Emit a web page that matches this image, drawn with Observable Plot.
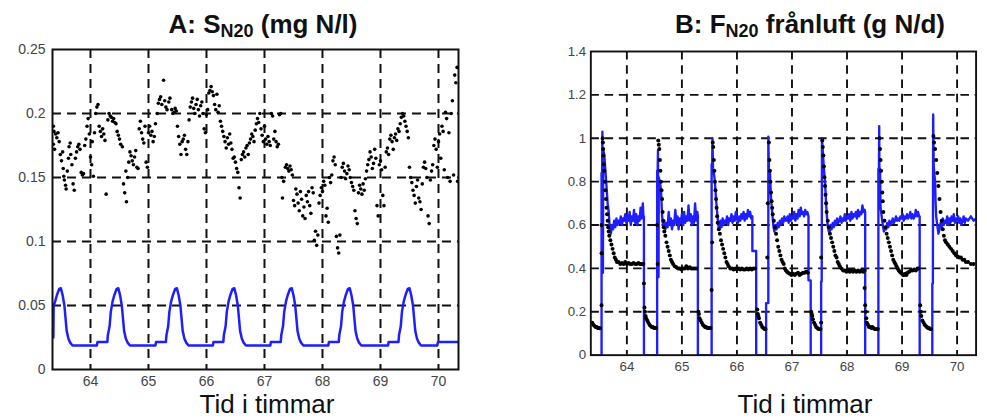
<!DOCTYPE html>
<html><head><meta charset="utf-8">
<script src="https://cdn.jsdelivr.net/npm/d3@7"></script>
<script src="https://cdn.jsdelivr.net/npm/@observablehq/plot@0.6"></script>
<style>
body{margin:0;background:#fff;}
#wrap{position:relative;width:987px;height:419px;overflow:hidden;font-family:"Liberation Sans",Arial,sans-serif;background:#fff;}
.title{position:absolute;font-weight:bold;font-size:26px;line-height:26px;white-space:nowrap;transform:translateX(-50%);color:#111;}
.title .sub{font-size:18px;position:relative;top:4px;}
.xlab{position:absolute;font-size:26px;line-height:26px;white-space:nowrap;transform:translateX(-50%);color:#111;}
.panel{position:absolute;}
</style></head>
<body><div id="wrap">
<div class="title" style="left:263px;top:11px;">A: S<span class="sub">N20</span> (mg N/l)</div>
<div class="title" style="left:810px;top:11px;">B: F<span class="sub">N20</span> frånluft (g N/d)</div>
<div class="xlab" style="left:267px;top:391px;">Tid i timmar</div>
<div class="xlab" style="left:805px;top:391px;">Tid i timmar</div>
<div id="pa" class="panel" style="left:0;top:30px;"></div>
<div id="pb" class="panel" style="left:541px;top:33px;"></div>
</div>
<script>
// ---- data ----
const xTicks = [64, 65, 66, 67, 68, 69, 70];
const yTicksA = [0, 0.05, 0.1, 0.15, 0.2, 0.25];
const yTicksB = [0, 0.2, 0.4, 0.6, 0.8, 1, 1.2, 1.4];
const gridA = [0.05, 0.1, 0.15, 0.2];
const gridB = [0.2, 0.4, 0.6, 0.8, 1, 1.2];
const xDomain = [63.345, 70.345];

// Panel A: measured S_N2O (black dots)
const dotsA = [[63.36,0.190],[63.37,0.186],[63.36,0.176],[63.38,0.172],[63.40,0.184],[63.42,0.181],[63.44,0.185],[63.46,0.178],[63.48,0.168],[63.50,0.163],[63.52,0.170],[63.53,0.157],[63.54,0.151],[63.55,0.148],[63.57,0.144],[63.58,0.141],[63.60,0.155],[63.62,0.165],[63.63,0.174],[63.65,0.177],[63.66,0.168],[63.68,0.160],[63.70,0.145],[63.72,0.140],[63.74,0.165],[63.76,0.170],[63.78,0.174],[63.80,0.176],[63.82,0.172],[63.84,0.154],[63.86,0.152],[63.88,0.153],[63.90,0.175],[63.92,0.180],[63.94,0.190],[63.96,0.196],[63.98,0.184],[64.00,0.166],[64.02,0.160],[64.03,0.178],[64.05,0.151],[64.07,0.185],[64.09,0.200],[64.11,0.205],[64.13,0.207],[64.15,0.190],[64.17,0.186],[64.19,0.182],[64.21,0.188],[64.23,0.184],[64.25,0.179],[64.27,0.137],[64.30,0.195],[64.32,0.200],[64.34,0.198],[64.36,0.197],[64.38,0.194],[64.40,0.196],[64.42,0.193],[64.44,0.192],[64.46,0.186],[64.48,0.183],[64.50,0.180],[64.52,0.176],[64.55,0.174],[64.57,0.145],[64.59,0.138],[64.61,0.155],[64.62,0.131],[64.64,0.150],[64.66,0.162],[64.68,0.170],[64.70,0.167],[64.72,0.163],[64.74,0.160],[64.76,0.166],[64.78,0.171],[64.80,0.158],[64.82,0.157],[64.84,0.188],[64.86,0.194],[64.88,0.185],[64.90,0.180],[64.92,0.177],[64.94,0.190],[64.96,0.162],[64.98,0.158],[65.00,0.185],[65.02,0.190],[65.04,0.183],[65.06,0.186],[65.08,0.178],[65.10,0.182],[65.12,0.192],[65.15,0.200],[65.17,0.208],[65.19,0.211],[65.21,0.213],[65.23,0.207],[65.26,0.226],[65.28,0.210],[65.30,0.205],[65.32,0.203],[65.35,0.209],[65.37,0.212],[65.40,0.203],[65.42,0.200],[65.44,0.201],[65.46,0.204],[65.48,0.202],[65.50,0.190],[65.52,0.182],[65.54,0.176],[65.56,0.168],[65.58,0.178],[65.60,0.180],[65.62,0.183],[65.64,0.172],[65.66,0.168],[65.68,0.178],[65.70,0.195],[65.72,0.205],[65.74,0.209],[65.76,0.212],[65.78,0.204],[65.80,0.200],[65.82,0.207],[65.84,0.211],[65.86,0.203],[65.88,0.198],[65.90,0.206],[65.92,0.209],[65.94,0.200],[65.96,0.188],[65.98,0.185],[66.00,0.199],[66.02,0.203],[66.04,0.216],[66.06,0.218],[66.08,0.221],[66.10,0.217],[66.12,0.214],[66.14,0.207],[66.16,0.203],[66.18,0.215],[66.20,0.201],[66.22,0.206],[66.24,0.194],[66.26,0.190],[66.28,0.186],[66.30,0.182],[66.32,0.178],[66.34,0.173],[66.36,0.181],[66.38,0.176],[66.40,0.184],[66.42,0.177],[66.44,0.172],[66.46,0.165],[66.48,0.166],[66.50,0.162],[66.52,0.157],[66.54,0.154],[66.56,0.142],[66.58,0.134],[66.60,0.164],[66.62,0.168],[66.64,0.170],[66.66,0.166],[66.68,0.173],[66.70,0.175],[66.72,0.168],[66.74,0.177],[66.76,0.180],[66.78,0.184],[66.80,0.182],[66.82,0.178],[66.84,0.187],[66.86,0.192],[66.88,0.196],[66.90,0.193],[66.92,0.200],[66.94,0.188],[66.96,0.183],[66.98,0.178],[67.00,0.190],[67.02,0.180],[67.04,0.176],[67.06,0.182],[67.08,0.178],[67.10,0.175],[67.12,0.200],[67.14,0.198],[67.16,0.180],[67.18,0.186],[67.20,0.178],[67.22,0.174],[67.24,0.176],[67.26,0.199],[67.28,0.200],[67.30,0.150],[67.31,0.134],[67.33,0.147],[67.36,0.158],[67.38,0.160],[67.40,0.157],[67.42,0.155],[67.44,0.159],[67.46,0.156],[67.48,0.152],[67.50,0.132],[67.52,0.128],[67.54,0.141],[67.56,0.137],[67.58,0.130],[67.60,0.124],[67.62,0.139],[67.64,0.133],[67.66,0.120],[67.68,0.127],[67.70,0.118],[67.72,0.136],[67.74,0.131],[67.76,0.139],[67.78,0.128],[67.80,0.122],[67.82,0.142],[67.84,0.138],[67.86,0.101],[67.88,0.108],[67.90,0.097],[67.92,0.105],[67.94,0.130],[67.96,0.136],[67.98,0.142],[68.00,0.139],[68.02,0.147],[68.04,0.144],[68.06,0.120],[68.08,0.126],[68.10,0.115],[68.12,0.150],[68.14,0.146],[68.16,0.152],[68.18,0.163],[68.20,0.166],[68.22,0.160],[68.24,0.104],[68.26,0.095],[68.28,0.091],[68.30,0.105],[68.32,0.150],[68.34,0.158],[68.36,0.161],[68.38,0.155],[68.40,0.149],[68.42,0.153],[68.44,0.159],[68.46,0.156],[68.48,0.150],[68.50,0.146],[68.52,0.143],[68.54,0.140],[68.56,0.124],[68.58,0.118],[68.60,0.114],[68.62,0.138],[68.64,0.144],[68.66,0.141],[68.68,0.137],[68.70,0.145],[68.72,0.140],[68.74,0.149],[68.76,0.155],[68.78,0.160],[68.80,0.164],[68.82,0.170],[68.84,0.166],[68.86,0.157],[68.88,0.161],[68.90,0.172],[68.92,0.165],[68.94,0.128],[68.96,0.120],[68.98,0.160],[69.00,0.163],[69.02,0.156],[69.04,0.136],[69.06,0.128],[69.08,0.158],[69.10,0.170],[69.12,0.173],[69.14,0.168],[69.16,0.180],[69.18,0.183],[69.20,0.178],[69.22,0.172],[69.24,0.181],[69.26,0.184],[69.28,0.179],[69.30,0.188],[69.32,0.186],[69.34,0.192],[69.36,0.197],[69.38,0.200],[69.40,0.198],[69.42,0.194],[69.44,0.190],[69.46,0.186],[69.48,0.181],[69.50,0.158],[69.52,0.150],[69.54,0.146],[69.56,0.140],[69.58,0.136],[69.60,0.130],[69.62,0.143],[69.64,0.148],[69.66,0.134],[69.68,0.131],[69.70,0.125],[69.72,0.145],[69.74,0.158],[69.76,0.162],[69.78,0.157],[69.80,0.150],[69.82,0.120],[69.84,0.114],[69.86,0.148],[69.88,0.155],[69.90,0.160],[69.92,0.175],[69.94,0.180],[69.96,0.172],[69.98,0.158],[70.00,0.178],[70.02,0.184],[70.04,0.165],[70.06,0.190],[70.08,0.186],[70.10,0.156],[70.12,0.201],[70.14,0.196],[70.16,0.150],[70.18,0.185],[70.20,0.147],[70.22,0.200],[70.24,0.210],[70.26,0.152],[70.28,0.230],[70.30,0.224],[70.32,0.236],[70.33,0.147]];

// Panel A: simulated S_N2O (blue line)
const lineA = [[63.345,0.025],[63.36,0.025],[63.365,0.050],[63.39,0.053],[63.42,0.058],[63.46,0.063],[63.49,0.0635],[63.52,0.058],[63.55,0.050],[63.57,0.040],[63.59,0.030],[63.62,0.024],[63.65,0.021],[63.69,0.0188],
[64.11,0.0188],[64.12,0.0214],[64.29,0.0214],[64.30,0.027],[64.33,0.034],[64.35,0.045],[64.38,0.053],[64.41,0.058],[64.45,0.063],[64.48,0.0635],[64.51,0.058],[64.54,0.050],[64.56,0.040],[64.58,0.030],[64.61,0.024],[64.64,0.021],[64.68,0.0188],
[65.12,0.0188],[65.13,0.0214],[65.30,0.0214],[65.31,0.027],[65.34,0.034],[65.36,0.045],[65.39,0.053],[65.42,0.058],[65.46,0.063],[65.49,0.0635],[65.52,0.058],[65.55,0.050],[65.57,0.040],[65.59,0.030],[65.62,0.024],[65.65,0.021],[65.69,0.0188],
[66.11,0.0188],[66.12,0.0214],[66.29,0.0214],[66.30,0.027],[66.33,0.034],[66.35,0.045],[66.38,0.053],[66.41,0.058],[66.45,0.063],[66.48,0.0635],[66.51,0.058],[66.54,0.050],[66.56,0.040],[66.58,0.030],[66.61,0.024],[66.64,0.021],[66.68,0.0188],
[67.10,0.0188],[67.11,0.0214],[67.28,0.0214],[67.29,0.027],[67.32,0.034],[67.34,0.045],[67.37,0.053],[67.40,0.058],[67.44,0.063],[67.47,0.0635],[67.50,0.058],[67.53,0.050],[67.55,0.040],[67.57,0.030],[67.60,0.024],[67.63,0.021],[67.67,0.0188],
[68.10,0.0188],[68.11,0.0214],[68.28,0.0214],[68.29,0.027],[68.32,0.034],[68.34,0.045],[68.37,0.053],[68.40,0.058],[68.44,0.063],[68.47,0.0635],[68.50,0.058],[68.53,0.050],[68.55,0.040],[68.57,0.030],[68.60,0.024],[68.63,0.021],[68.67,0.0188],
[69.13,0.0188],[69.14,0.0214],[69.31,0.0214],[69.32,0.027],[69.35,0.034],[69.37,0.045],[69.40,0.053],[69.43,0.058],[69.47,0.063],[69.50,0.0635],[69.53,0.058],[69.56,0.050],[69.58,0.040],[69.60,0.030],[69.63,0.024],[69.66,0.021],[69.70,0.0188],
[69.98,0.0188],[69.99,0.0214],[70.345,0.0214]];

// Panel B: simulated N2O flux in off-gas (blue line)
const lineB = [[63.345,0],[63.54,0],[63.54,0.84],[63.55,0.84],[63.555,1.03],[63.565,0.38],[63.57,0.95],[63.59,0.92],[63.61,0.85],[63.63,0.78],[63.65,0.70],[63.67,0.66],[63.69,0.58],[63.71,0.56],[63.73,0.60],[63.75,0.58],[63.77,0.62],[63.79,0.59],[63.81,0.63],[63.83,0.60],[63.85,0.62],[63.87,0.61],[63.89,0.64],[63.91,0.60],[63.93,0.63],[63.95,0.62],[63.97,0.65],[63.99,0.61],[64.01,0.64],[64.03,0.62],[64.05,0.66],[64.07,0.60],[64.09,0.64],[64.11,0.62],[64.13,0.67],[64.15,0.61],[64.17,0.65],[64.19,0.60],[64.21,0.64],[64.23,0.62],[64.25,0.68],[64.27,0.63],[64.29,0.70],[64.30,0.64],[64.31,0.64],[64.31,0],
[64.55,0],[64.55,0.85],[64.56,0.85],[64.565,0.945],[64.575,0.36],[64.58,0.82],[64.60,0.80],[64.62,0.76],[64.64,0.64],[64.66,0.60],[64.68,0.62],[64.70,0.58],[64.72,0.61],[64.74,0.59],[64.76,0.66],[64.78,0.60],[64.80,0.63],[64.82,0.58],[64.84,0.62],[64.86,0.60],[64.88,0.67],[64.90,0.61],[64.92,0.64],[64.94,0.58],[64.96,0.63],[64.98,0.61],[65.00,0.65],[65.02,0.60],[65.04,0.66],[65.06,0.61],[65.08,0.64],[65.10,0.62],[65.12,0.69],[65.14,0.62],[65.16,0.65],[65.18,0.60],[65.20,0.64],[65.22,0.61],[65.24,0.70],[65.26,0.62],[65.28,0.66],[65.29,0.64],[65.29,0],
[65.54,0],[65.54,0.88],[65.55,0.88],[65.555,1.0],[65.565,0.86],[65.58,0.84],[65.60,0.80],[65.62,0.72],[65.64,0.66],[65.66,0.60],[65.68,0.58],[65.70,0.62],[65.72,0.59],[65.74,0.63],[65.76,0.60],[65.78,0.62],[65.80,0.61],[65.82,0.64],[65.84,0.60],[65.86,0.63],[65.88,0.62],[65.90,0.65],[65.92,0.61],[65.94,0.64],[65.96,0.62],[65.98,0.66],[66.00,0.63],[66.02,0.61],[66.04,0.64],[66.06,0.62],[66.08,0.65],[66.10,0.63],[66.12,0.66],[66.14,0.62],[66.16,0.65],[66.18,0.63],[66.20,0.67],[66.22,0.64],[66.24,0.66],[66.26,0.63],[66.28,0.64],[66.28,0.48],[66.35,0.48],[66.35,0],
[66.53,0],[66.53,0.24],[66.57,0.24],[66.57,1.007],[66.58,0.86],[66.60,0.84],[66.62,0.72],[66.64,0.66],[66.66,0.60],[66.68,0.57],[66.70,0.60],[66.72,0.58],[66.74,0.61],[66.76,0.59],[66.78,0.62],[66.80,0.60],[66.82,0.63],[66.84,0.61],[66.86,0.64],[66.88,0.62],[66.90,0.62],[66.92,0.64],[66.94,0.61],[66.96,0.65],[66.98,0.62],[67.00,0.64],[67.02,0.63],[67.04,0.66],[67.06,0.62],[67.08,0.65],[67.10,0.63],[67.12,0.67],[67.14,0.64],[67.16,0.68],[67.18,0.65],[67.20,0.66],[67.22,0.64],[67.24,0.67],[67.26,0.65],[67.28,0.66],[67.30,0.64],[67.30,0.345],[67.34,0.345],[67.34,0],
[67.53,0],[67.53,0.34],[67.54,0.34],[67.545,1.0],[67.56,0.94],[67.58,0.86],[67.60,0.80],[67.62,0.70],[67.64,0.62],[67.66,0.58],[67.68,0.56],[67.70,0.60],[67.72,0.58],[67.74,0.61],[67.76,0.59],[67.78,0.62],[67.80,0.60],[67.82,0.63],[67.84,0.61],[67.86,0.62],[67.88,0.64],[67.90,0.61],[67.92,0.63],[67.94,0.62],[67.96,0.65],[67.98,0.62],[68.00,0.64],[68.02,0.63],[68.04,0.65],[68.06,0.62],[68.08,0.66],[68.10,0.63],[68.12,0.65],[68.14,0.64],[68.16,0.66],[68.18,0.63],[68.20,0.67],[68.22,0.64],[68.24,0.66],[68.26,0.65],[68.28,0.69],[68.30,0.66],[68.32,0.67],[68.33,0.66],[68.33,0],
[68.57,0],[68.57,0.86],[68.58,0.86],[68.585,1.056],[68.59,0.72],[68.60,0.86],[68.61,0.68],[68.63,0.64],[68.65,0.60],[68.67,0.57],[68.69,0.59],[68.71,0.58],[68.73,0.61],[68.75,0.59],[68.77,0.62],[68.79,0.60],[68.81,0.61],[68.83,0.63],[68.85,0.61],[68.87,0.62],[68.89,0.64],[68.91,0.62],[68.93,0.63],[68.95,0.62],[68.97,0.64],[68.99,0.63],[69.01,0.65],[69.03,0.62],[69.05,0.64],[69.07,0.63],[69.09,0.65],[69.11,0.63],[69.13,0.64],[69.15,0.66],[69.17,0.63],[69.19,0.65],[69.21,0.63],[69.23,0.64],[69.25,0.67],[69.27,0.64],[69.29,0.66],[69.31,0.64],[69.32,0.64],[69.32,0],
[69.55,0],[69.55,0.33],[69.56,0.33],[69.565,1.11],[69.575,0.88],[69.585,0.84],[69.60,0.80],[69.61,0.70],[69.62,0.64],[69.64,0.60],[69.66,0.56],[69.68,0.58],[69.70,0.61],[69.72,0.59],[69.74,0.63],[69.76,0.60],[69.78,0.62],[69.80,0.61],[69.82,0.64],[69.84,0.60],[69.86,0.63],[69.88,0.61],[69.90,0.64],[69.92,0.62],[69.94,0.65],[69.96,0.61],[69.98,0.63],[70.00,0.62],[70.02,0.64],[70.04,0.61],[70.06,0.63],[70.08,0.60],[70.10,0.62],[70.12,0.64],[70.14,0.61],[70.16,0.63],[70.20,0.62],[70.25,0.64],[70.30,0.62],[70.345,0.63]];

// Panel B: measured N2O flux (black dots)
const dotsB = [[63.37,0.15],[63.39,0.14],[63.41,0.135],[63.43,0.13],[63.45,0.13],[63.47,0.125],[63.49,0.125],[63.51,0.124],[63.54,0.47],[63.54,0.23],[63.54,0.60],
[63.56,1.0],[63.565,0.98],[63.57,0.95],[63.575,0.92],[63.58,0.88],[63.59,0.85],[63.60,0.80],[63.61,0.76],[63.62,0.72],[63.63,0.68],[63.64,0.65],[63.65,0.62],[63.66,0.59],[63.67,0.57],[63.68,0.55],[63.70,0.53],[63.72,0.51],[63.74,0.49],[63.76,0.47],[63.78,0.45],[63.80,0.44],[63.82,0.43],[63.85,0.43],[63.88,0.42],[63.91,0.425],[63.94,0.42],[63.97,0.43],[64.00,0.42],[64.03,0.425],[64.06,0.42],[64.09,0.42],[64.12,0.425],[64.15,0.42],[64.18,0.42],[64.21,0.425],[64.24,0.42],[64.27,0.42],[64.30,0.42],[64.31,0.33],
[64.32,0.22],[64.33,0.20],[64.34,0.18],[64.35,0.17],[64.37,0.16],[64.39,0.15],[64.41,0.14],[64.43,0.135],[64.45,0.13],[64.47,0.13],[64.49,0.125],[64.51,0.125],[64.53,0.125],[64.55,0.60],[64.56,0.42],
[64.57,0.99],[64.58,0.97],[64.59,0.95],[64.60,0.90],[64.61,0.85],[64.62,0.80],[64.63,0.76],[64.64,0.72],[64.65,0.66],[64.66,0.62],[64.67,0.59],[64.68,0.57],[64.70,0.55],[64.72,0.52],[64.74,0.50],[64.76,0.48],[64.78,0.46],[64.80,0.44],[64.82,0.43],[64.84,0.42],[64.87,0.41],[64.90,0.405],[64.93,0.40],[64.96,0.40],[64.99,0.395],[65.02,0.40],[65.05,0.40],[65.08,0.41],[65.11,0.40],[65.14,0.405],[65.17,0.40],[65.20,0.40],[65.23,0.40],[65.26,0.40],
[65.30,0.20],[65.31,0.19],[65.32,0.17],[65.34,0.16],[65.36,0.15],[65.38,0.14],[65.40,0.135],[65.42,0.13],[65.44,0.13],[65.46,0.125],[65.48,0.125],[65.50,0.125],[65.52,0.125],[65.54,0.30],[65.55,0.52],
[65.56,0.98],[65.57,0.96],[65.58,0.90],[65.59,0.85],[65.60,0.80],[65.61,0.76],[65.62,0.72],[65.63,0.68],[65.64,0.64],[65.65,0.61],[65.67,0.58],[65.69,0.56],[65.71,0.53],[65.73,0.51],[65.75,0.49],[65.77,0.47],[65.79,0.45],[65.81,0.43],[65.83,0.42],[65.85,0.41],[65.88,0.40],[65.91,0.40],[65.94,0.395],[65.97,0.40],[66.00,0.395],[66.03,0.40],[66.06,0.395],[66.09,0.40],[66.12,0.395],[66.15,0.395],[66.18,0.40],[66.21,0.395],[66.24,0.40],[66.27,0.395],[66.30,0.40],[66.33,0.40],
[66.37,0.21],[66.38,0.19],[66.39,0.18],[66.40,0.17],[66.42,0.15],[66.44,0.14],[66.46,0.13],[66.48,0.125],[66.50,0.12],[66.52,0.12],[66.55,0.45],[66.56,0.70],
[66.58,0.98],[66.59,0.90],[66.60,0.85],[66.61,0.80],[66.62,0.75],[66.63,0.71],[66.64,0.68],[66.65,0.65],[66.67,0.62],[66.69,0.59],[66.71,0.56],[66.73,0.53],[66.75,0.50],[66.77,0.48],[66.79,0.46],[66.81,0.44],[66.83,0.43],[66.85,0.42],[66.87,0.40],[66.89,0.39],[66.91,0.385],[66.93,0.38],[66.96,0.375],[66.99,0.37],[67.02,0.375],[67.05,0.37],[67.08,0.375],[67.11,0.38],[67.14,0.37],[67.17,0.375],[67.20,0.38],[67.23,0.38],[67.26,0.385],[67.29,0.38],
[67.35,0.20],[67.36,0.19],[67.37,0.18],[67.38,0.165],[67.40,0.15],[67.42,0.14],[67.44,0.13],[67.46,0.125],[67.48,0.12],[67.50,0.12],[67.52,0.12],[67.53,0.15],[67.53,0.45],
[67.55,0.99],[67.56,0.96],[67.57,0.92],[67.58,0.87],[67.59,0.82],[67.60,0.78],[67.61,0.74],[67.62,0.70],[67.63,0.66],[67.65,0.62],[67.67,0.59],[67.69,0.56],[67.71,0.54],[67.73,0.52],[67.75,0.50],[67.77,0.48],[67.79,0.46],[67.81,0.45],[67.83,0.43],[67.85,0.42],[67.87,0.41],[67.90,0.40],[67.93,0.39],[67.96,0.39],[67.99,0.385],[68.02,0.39],[68.05,0.385],[68.08,0.39],[68.11,0.385],[68.14,0.39],[68.17,0.385],[68.20,0.39],[68.23,0.385],[68.26,0.39],[68.29,0.385],[68.32,0.39],[68.32,0.31],[68.33,0.23],
[68.34,0.20],[68.35,0.17],[68.36,0.15],[68.38,0.14],[68.40,0.13],[68.42,0.13],[68.44,0.125],[68.46,0.13],[68.48,0.125],[68.50,0.12],[68.52,0.12],[68.54,0.12],[68.56,0.12],
[68.59,1.0],[68.60,0.95],[68.61,0.90],[68.62,0.85],[68.63,0.80],[68.64,0.75],[68.65,0.71],[68.66,0.66],[68.68,0.62],[68.70,0.59],[68.72,0.56],[68.74,0.54],[68.76,0.52],[68.78,0.50],[68.80,0.48],[68.82,0.46],[68.84,0.44],[68.86,0.43],[68.88,0.42],[68.90,0.41],[68.92,0.40],[68.94,0.39],[68.96,0.385],[68.98,0.38],[69.00,0.375],[69.02,0.37],[69.04,0.37],[69.06,0.375],[69.08,0.37],[69.10,0.38],[69.13,0.385],[69.16,0.39],[69.19,0.39],[69.22,0.395],[69.25,0.39],[69.28,0.40],[69.30,0.40],
[69.33,0.23],[69.34,0.20],[69.35,0.18],[69.37,0.16],[69.39,0.15],[69.41,0.14],[69.43,0.135],[69.45,0.13],[69.47,0.125],[69.49,0.125],[69.51,0.12],[69.53,0.12],
[69.57,1.01],[69.58,0.98],[69.60,0.95],[69.62,0.90],[69.64,0.84],[69.66,0.78],[69.68,0.72],[69.70,0.66],[69.72,0.62],[69.74,0.58],[69.76,0.55],[69.78,0.53],[69.80,0.52],[69.83,0.51],[69.86,0.50],[69.89,0.49],[69.92,0.48],[69.95,0.47],[69.98,0.46],[70.01,0.455],[70.04,0.45],[70.07,0.45],[70.10,0.44],[70.13,0.44],[70.16,0.43],[70.20,0.43],[70.25,0.42],[70.30,0.42]];

// ---- drawing ----
const BLUE = "#1e1eff";
function panel({dots, line, yDomain, yTicks, grid, padY, dotR}) {
  return Plot.plot({
    width: 470, height: 355,
    marginLeft: 52, marginRight: 12, marginTop: 19, marginBottom: 16,
    x: {domain: xDomain},
    y: {domain: yDomain},
    style: {fontFamily: "'Liberation Sans', Arial, sans-serif", fontSize: "14px", color: "#444", background: "transparent", overflow: "visible"},
    marks: [
      Plot.ruleX(xTicks, {stroke: "#111", strokeWidth: 2, strokeDasharray: "9,6"}),
      Plot.ruleY(grid, {stroke: "#111", strokeWidth: 2, strokeDasharray: "9,6"}),
      Plot.line(line, {x: d => d[0], y: d => d[1], stroke: BLUE, strokeWidth: 2.5, clip: true}),
      Plot.dot(dots, {x: d => d[0], y: d => d[1], r: dotR, fill: "#000", stroke: null, clip: true}),
      Plot.frame({stroke: "#111", strokeWidth: 2}),
      Plot.axisX(xTicks, {tickSize: 0, tickPadding: 7, label: null, fill: "#444", tickFormat: d => String(d)}),
      Plot.axisY(yTicks, {tickSize: 0, tickPadding: padY, label: null, fill: "#444", tickFormat: d => String(d)})
    ]
  });
}
document.getElementById("pa").append(panel({dots: dotsA, line: lineA, yDomain: [0, 0.25], yTicks: yTicksA, grid: gridA, padY: 7, dotR: 1.8}));
document.getElementById("pb").append(panel({dots: dotsB, line: lineB, yDomain: [0, 1.4], yTicks: yTicksB, grid: gridB, padY: 5, dotR: 2.1}));
</script>
</body></html>
